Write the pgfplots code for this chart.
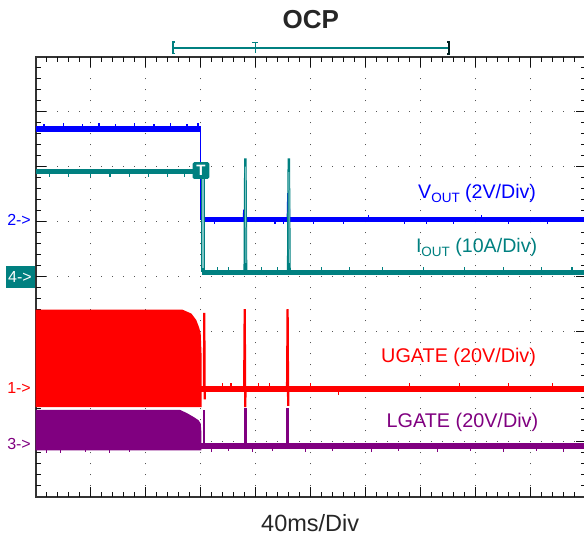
\documentclass[border=0pt]{standalone}
\usepackage{fontspec}
\setmainfont{Liberation Sans}
\usepackage{pgfplots}
\pgfplotsset{compat=1.18}
\definecolor{vblue}{HTML}{0000FF}
\definecolor{iteal}{HTML}{008080}
\definecolor{lteal}{HTML}{7FC4C4}
\definecolor{ured}{HTML}{FF0000}
\definecolor{lpurp}{HTML}{800080}
\definecolor{framec}{HTML}{333333}
\definecolor{griddot}{HTML}{555555}
\definecolor{tickc}{HTML}{111111}
\tikzset{gdot/.style={griddot, line width=1.4pt, dash pattern=on 1.4pt off 9.6pt, dash phase=0.7pt},
         majt/.style={tickc, line width=1.3pt},
         mint/.style={tickc, line width=1.1pt}}
\begin{document}
\begin{tikzpicture}
\begin{axis}[
  at={(0pt,0pt)}, anchor=south west,
  scale only axis, width=550pt, height=440pt,
  xmin=0, xmax=10, ymin=0, ymax=8,
  xtick=\empty, ytick=\empty,
  axis line style={framec, line width=1.8pt},
  clip=false,
  unbounded coords=jump,
]
% ---------- graticule: dotted division lines and frame ticks ----------
\pgfplotsinvokeforeach{1,2,3,4,5,6,7,8,9}{
  \draw[gdot] (axis cs:#1,0) -- (axis cs:#1,8);
  \draw[majt] (axis cs:#1,0) -- (axis cs:#1,0.182);
  \draw[majt] (axis cs:#1,8) -- (axis cs:#1,7.818);
}
\pgfplotsinvokeforeach{1,2,3,4,5,6,7}{
  \draw[gdot] (axis cs:0,#1) -- (axis cs:10,#1);
  \draw[majt] (axis cs:0,#1) -- (axis cs:0.182,#1);
  \draw[majt] (axis cs:10,#1) -- (axis cs:9.818,#1);
}
\pgfplotsinvokeforeach{0.2,0.4,0.6,0.8,1.2,1.4,1.6,1.8,2.2,2.4,2.6,2.8,3.2,3.4,3.6,3.8,4.2,4.4,4.6,4.8,5.2,5.4,5.6,5.8,6.2,6.4,6.6,6.8,7.2,7.4,7.6,7.8,8.2,8.4,8.6,8.8,9.2,9.4,9.6,9.8}{
  \draw[mint] (axis cs:#1,0) -- (axis cs:#1,0.091);
  \draw[mint] (axis cs:#1,8) -- (axis cs:#1,7.909);
}
\pgfplotsinvokeforeach{0.2,0.4,0.6,0.8,1.2,1.4,1.6,1.8,2.2,2.4,2.6,2.8,3.2,3.4,3.6,3.8,4.2,4.4,4.6,4.8,5.2,5.4,5.6,5.8,6.2,6.4,6.6,6.8,7.2,7.4,7.6,7.8}{
  \draw[mint] (axis cs:0,#1) -- (axis cs:0.091,#1);
  \draw[mint] (axis cs:10,#1) -- (axis cs:9.909,#1);
}
% ---------- LGATE (ch3) ----------
\addplot[fill=lpurp, draw=none] coordinates {(0,0.84) (0,1.58) (2.62,1.58) (2.75,1.52) (2.87,1.45) (2.96,1.39) (3.0,1.33) (3.01,1.20) (3.01,0.84)} -- cycle;
\addplot[lpurp, line width=6pt] coordinates {(3.0,0.925) (10,0.925)};
\addplot[lpurp, line width=1pt] coordinates {(0.2,0.84) (0.2,0.80) (nan,nan) (0.45,0.84) (0.45,0.80) (nan,nan) (0.9,0.84) (0.9,0.81) (nan,nan) (1.35,0.84) (1.35,0.80) (nan,nan) (1.7,0.84) (1.7,0.81) (nan,nan) (3.2,0.87) (3.2,0.82) (nan,nan) (3.5,0.87) (3.5,0.83) (nan,nan) (3.95,0.87) (3.95,0.82) (nan,nan) (4.3,0.87) (4.3,0.83) (nan,nan) (4.9,0.87) (4.9,0.82) (nan,nan) (5.4,0.87) (5.4,0.83) (nan,nan) (6.1,0.87) (6.1,0.82) (nan,nan) (6.6,0.87) (6.6,0.83) (nan,nan) (7.3,0.87) (7.3,0.82) (nan,nan) (7.9,0.87) (7.9,0.83) (nan,nan) (8.5,0.87) (8.5,0.82) (nan,nan) (9.1,0.87) (9.1,0.83) (nan,nan) (9.6,0.87) (9.6,0.82)};
\addplot[fill=lpurp, draw=none] coordinates {(3.045,0.92) (3.045,1.57) (3.08,1.57) (3.08,0.92)} -- cycle;
\addplot[fill=lpurp, draw=none] coordinates {(3.79,0.92) (3.79,1.62) (3.835,1.62) (3.835,0.92)} -- cycle;
\addplot[fill=lpurp, draw=none] coordinates {(4.555,0.92) (4.555,1.62) (4.60,1.62) (4.60,0.92)} -- cycle;
% ---------- UGATE (ch1) ----------
\addplot[fill=ured, draw=none] coordinates {(0,1.63) (0,3.40) (2.67,3.40) (2.83,3.33) (2.92,3.21) (2.97,3.08) (3.0,2.97) (3.015,2.60) (3.015,1.63)} -- cycle;
\addplot[ured, line width=6pt] coordinates {(3.01,1.96) (10,1.96)};
\addplot[ured, line width=1.2pt] coordinates {(3.4,2.01) (3.4,2.07) (nan,nan) (3.55,2.01) (3.55,2.06) (nan,nan) (4.05,2.01) (4.05,2.07) (nan,nan) (4.25,2.01) (4.25,2.06) (nan,nan) (5.0,2.01) (5.0,2.06) (nan,nan) (5.5,1.91) (5.5,1.84) (nan,nan) (6.8,2.01) (6.8,2.07) (nan,nan) (7.7,2.01) (7.7,2.06) (nan,nan) (8.6,2.01) (8.6,2.06) (nan,nan) (9.4,2.01) (9.4,2.07)};
\addplot[ured, line width=2.2pt] coordinates {(3.058,1.96) (3.065,3.34) (3.072,1.77) (3.078,1.96)};
\addplot[ured, line width=2.2pt] coordinates {(3.79,1.96) (3.80,3.41) (3.81,1.63) (3.815,1.96)};
\addplot[ured, line width=2.2pt] coordinates {(4.57,1.96) (4.58,3.41) (4.59,1.65) (4.595,1.96)};
% ---------- VOUT (ch2) ----------
\addplot[vblue, line width=6pt] coordinates {(0,6.69) (3.0,6.69)};
\addplot[vblue, line width=1.2pt] coordinates {(0.15,6.74) (0.15,6.78) (nan,nan) (0.5,6.74) (0.5,6.79) (nan,nan) (0.85,6.74) (0.85,6.78) (nan,nan) (1.15,6.74) (1.15,6.79) (nan,nan) (1.45,6.74) (1.45,6.78) (nan,nan) (1.8,6.74) (1.8,6.79) (nan,nan) (2.15,6.74) (2.15,6.78) (nan,nan) (2.45,6.74) (2.45,6.79) (nan,nan) (2.75,6.74) (2.75,6.78) (nan,nan) (2.95,6.74) (2.95,6.79)};
\addplot[vblue, line width=1.2pt] coordinates {(3.0,6.69) (3.0,5.04)};
\addplot[vblue, line width=5pt] coordinates {(3.02,5.04) (10,5.04)};
\addplot[vblue, line width=1.2pt] coordinates {(3.25,5.0) (3.25,4.95) (nan,nan) (4.35,5.0) (4.35,4.95) (nan,nan) (4.5,5.0) (4.5,4.95) (nan,nan) (5.05,5.0) (5.05,4.95) (nan,nan) (5.6,5.0) (5.6,4.95) (nan,nan) (6.05,5.08) (6.05,5.13) (nan,nan) (6.7,5.0) (6.7,4.95) (nan,nan) (7.1,5.0) (7.1,4.95) (nan,nan) (7.6,5.0) (7.6,4.95) (nan,nan) (8.1,5.08) (8.1,5.13) (nan,nan) (8.6,5.0) (8.6,4.95) (nan,nan) (9.3,5.0) (9.3,4.95)};
\addplot[vblue, line width=2.5pt] coordinates {(3.785,5.04) (3.795,5.22) (3.805,5.04)};
\addplot[vblue, line width=2.5pt] coordinates {(4.585,5.04) (4.595,5.52) (4.605,5.04)};
% ---------- IOUT (ch4) ----------
\addplot[iteal, line width=5.5pt] coordinates {(0,5.91) (3.0,5.91)};
\addplot[iteal, line width=1.2pt] coordinates {(0.25,5.86) (0.25,5.81) (nan,nan) (0.6,5.86) (0.6,5.82) (nan,nan) (1.0,5.86) (1.0,5.81) (nan,nan) (1.35,5.86) (1.35,5.82) (nan,nan) (1.7,5.86) (1.7,5.81) (nan,nan) (2.05,5.86) (2.05,5.82) (nan,nan) (2.4,5.86) (2.4,5.81) (nan,nan) (2.7,5.86) (2.7,5.82)};
\addplot[iteal, line width=3.5pt] coordinates {(3.04,5.91) (3.04,4.08)};
\addplot[lteal, line width=1.2pt] coordinates {(3.04,5.80) (3.04,4.15)};
\addplot[iteal, line width=5.5pt] coordinates {(3.03,4.08) (10,4.08)};
\addplot[iteal, line width=1.2pt] coordinates {(3.3,4.13) (3.3,4.18) (nan,nan) (3.5,4.13) (3.5,4.17) (nan,nan) (4.1,4.13) (4.1,4.18) (nan,nan) (4.4,4.13) (4.4,4.17) (nan,nan) (5.2,4.13) (5.2,4.18) (nan,nan) (5.7,4.13) (5.7,4.17) (nan,nan) (6.3,4.13) (6.3,4.18) (nan,nan) (7.05,4.13) (7.05,4.17) (nan,nan) (7.8,4.13) (7.8,4.18) (nan,nan) (8.5,4.13) (8.5,4.17) (nan,nan) (9.2,4.13) (9.2,4.18) (nan,nan) (9.75,4.13) (9.75,4.17)};
\addplot[iteal, line width=2.5pt] coordinates {(3.80,4.08) (3.812,6.15) (3.825,4.08)};
\addplot[lteal, line width=1.0pt] coordinates {(3.814,6.0) (3.822,4.25)};
\addplot[iteal, line width=2.5pt] coordinates {(4.59,4.08) (4.602,6.15) (4.615,4.08)};
\addplot[lteal, line width=1.0pt] coordinates {(4.604,5.9) (4.611,4.25)};
% ---------- trigger marker ----------
\node[fill=iteal, rounded corners=1.5pt, minimum width=16.7pt, minimum height=16.7pt, inner sep=0pt, text=white, font=\bfseries\fontsize{15}{15}\selectfont] at (axis cs:3.005,5.93) {T};
% ---------- channel markers ----------
\node[anchor=east, inner sep=0pt, text=vblue, font=\fontsize{16}{18}\selectfont] at (axis cs:-0.085,5.04) {2->};
\fill[iteal] (axis cs:-0.54,3.79) rectangle (axis cs:-0.013,4.19);
\node[inner sep=0pt, text=white, font=\fontsize{16}{18}\selectfont] at (axis cs:-0.285,3.99) {4->};
\node[anchor=east, inner sep=0pt, text=ured, font=\fontsize{16}{18}\selectfont] at (axis cs:-0.085,1.97) {1->};
\node[anchor=east, inner sep=0pt, text=lpurp, font=\fontsize{16}{18}\selectfont] at (axis cs:-0.085,0.95) {3->};
% ---------- trace labels ----------
\node[anchor=east, inner sep=0pt, text=vblue, font=\fontsize{19.6}{23}\selectfont] at (axis cs:9.10,5.51) {V\raisebox{-0.35ex}{\fontsize{13.5}{14}\selectfont OUT} (2V/Div)};
\node[anchor=east, inner sep=0pt, text=iteal, font=\fontsize{19.6}{23}\selectfont] at (axis cs:9.12,4.53) {I\raisebox{-0.35ex}{\fontsize{13.5}{14}\selectfont OUT} (10A/Div)};
\node[anchor=east, inner sep=0pt, text=ured, font=\fontsize{19.8}{23}\selectfont] at (axis cs:9.10,2.54) {UGATE (20V/Div)};
\node[anchor=east, inner sep=0pt, text=lpurp, font=\fontsize{19.8}{23}\selectfont] at (axis cs:9.14,1.36) {LGATE (20V/Div)};
% ---------- title, time base, bracket ----------
\node[text=black!85, font=\bfseries\fontsize{26}{30}\selectfont] at (axis cs:5.0,8.67) {OCP};
\node[text=black!85, font=\fontsize{23.5}{28}\selectfont] at (axis cs:4.99,-0.485) {40ms/Div};
\draw[iteal, line width=1.3pt] (axis cs:2.50,8.156) -- (axis cs:7.52,8.156);
\draw[iteal, line width=1.5pt] (axis cs:2.535,8.265) -- (axis cs:2.50,8.265) -- (axis cs:2.50,8.055) -- (axis cs:2.535,8.055);
\draw[black!75!iteal, line width=2pt] (axis cs:7.485,8.265) -- (axis cs:7.52,8.265) -- (axis cs:7.52,8.055) -- (axis cs:7.485,8.055);
\draw[iteal, line width=1.2pt] (axis cs:3.94,8.265) -- (axis cs:4.04,8.265) (axis cs:3.99,8.265) -- (axis cs:3.99,8.065);
\end{axis}
\pgfresetboundingbox
\path[use as bounding box] (-35.7pt,-43.7pt) rectangle (548.3pt,496.7pt);
\end{tikzpicture}
\end{document}
